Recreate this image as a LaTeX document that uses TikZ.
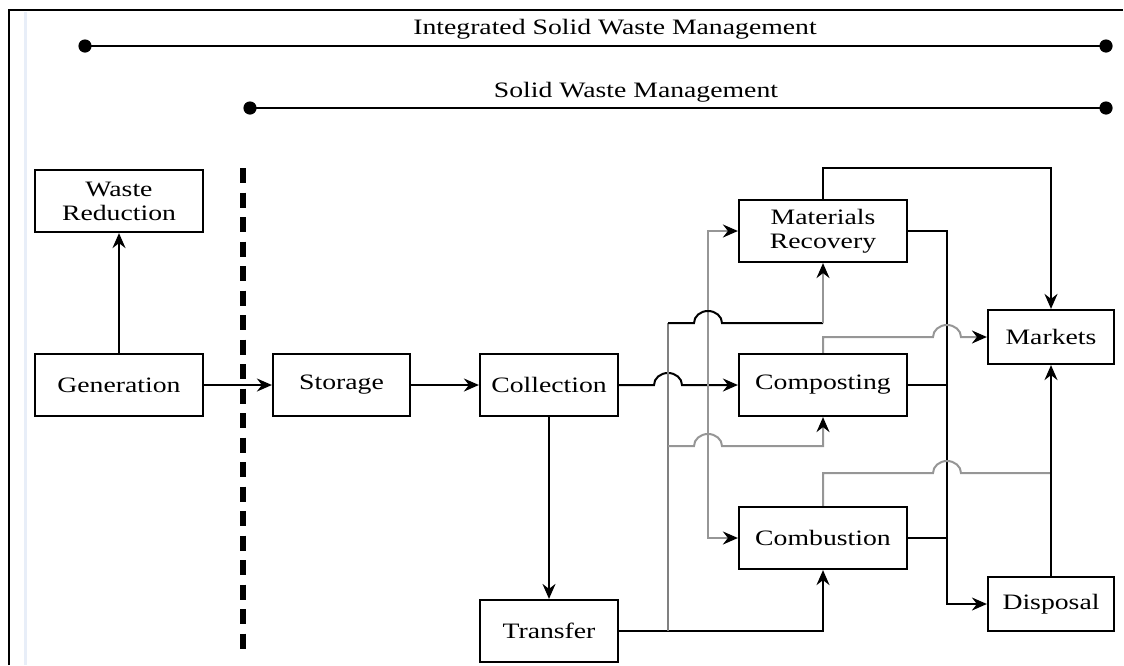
\documentclass[tikz,border=0pt]{standalone}
\usepackage{fontspec}
\setmainfont{Liberation Serif}[FakeStretch=1.26]
\usepackage{tikz}
\usetikzlibrary{arrows.meta}
\definecolor{linegray}{RGB}{150,150,150}
\definecolor{edgeblue}{RGB}{232,238,248}

\begin{document}
\begin{tikzpicture}[>={Stealth[length=7.5pt,width=6.5pt,inset=2.5pt,black]}, x=0.5pt, y=-0.5pt,
        box/.style={draw, line width=1.1pt, inner sep=0pt, align=center, font=\fontsize{11}{12}\selectfont},
        flow/.style={line width=1pt},
        gflow/.style={line width=1pt, linegray}] % y向下, 1单位=1像素
        \useasboundingbox (0,0) rectangle (1124,665);

        \path 
        (85,46)  coordinate (i1)
        (1106,46) coordinate (i2)
        (250,108) coordinate (s1)
        (1106,108) coordinate (s2)
        (243,168) coordinate (d1)
        (243,653) coordinate (d2)
        (668,631) coordinate (t0)
        (668,323) coordinate (t1)
        (668,446) coordinate (t2)
        (708,385) coordinate (c0)
        (947,231) coordinate (r0)
        ;

        % 外框
        \draw[edgeblue, line width=1.5pt] (25,12) -- (25,665);
        \draw[line width=1.4pt] (9,665) -- (9,10) -- (1123,10);

        \draw[line width=1.3pt] (i1) -- (i2);
        \draw[line width=1.3pt] (s1) -- (s2);
        \fill (i1) circle[radius=3.3pt] (i2) circle[radius=3.3pt]
              (s1) circle[radius=3.3pt] (s2) circle[radius=3.3pt];
        \node[font=\fontsize{11}{12}\selectfont] (iswm) at (615,29) {Integrated Solid Waste Management};
        \node[font=\fontsize{11}{12}\selectfont] (swm) at (636,92) {Solid Waste Management};

        \draw[line width=2.6pt, dash pattern=on 7.5pt off 4.75pt] (d1) -- (d2);

        \node[box, minimum width=84pt, minimum height=31pt] (wred) at (119,201) {Waste\\Reduction};
        \node[box, minimum width=84pt, minimum height=31pt] (gen) at (119,385) {Generation};
        \node[box, minimum width=68.5pt, minimum height=31pt] (stor) at (341.5,385) {Storage};
        \node[box, minimum width=69pt, minimum height=31pt] (coll) at (549,385) {Collection};
        \node[box, minimum width=69pt, minimum height=31pt] (trans) at (549,631) {Transfer};
        \node[box, minimum width=84pt, minimum height=31pt] (mrec) at (823,231) {Materials\\Recovery};
        \node[box, minimum width=84pt, minimum height=31pt] (comp) at (823,385) {Composting};
        \node[box, minimum width=84pt, minimum height=31pt] (comb) at (823,538) {Combustion};
        \node[box, minimum width=63pt, minimum height=27pt] (mkt) at (1051,337) {Markets};
        \node[box, minimum width=63pt, minimum height=27pt] (disp) at (1051,604) {Disposal};

        \draw[flow,->] (gen) -- (wred);
        \draw[flow,->] (gen) -- (stor);
        \draw[flow,->] (stor) -- (coll);
        \draw[flow,->] (coll) -- (trans);

        % Collection 出口
        \draw[flow,->] (coll.east) -- (654,385) arc[start angle=180, end angle=360, x radius=14, y radius=12] -- (comp.west);
        \draw[gflow,->] (c0) |- (mrec.west);
        \draw[gflow,->] (c0) |- (comb.west);

        % Transfer 出口
        \draw[flow,->] (trans.east) -| (comb.south);
        \draw[gflow, color=gray] (t0) -- (t1);
        \draw[flow] (t1) -- ++(26,0) arc[start angle=180, end angle=360, x radius=14, y radius=12] -- (t1 -| mrec.south);
        \draw[gflow,->] (t1 -| mrec.south) -- (mrec.south);
        \draw[gflow,->] (t2) -- ++(26,0) arc[start angle=180, end angle=360, x radius=14, y radius=12] -| (comp.south);

        % 右侧
        \draw[flow,->] (mrec.east) -- (r0) |- (disp.west);
        \draw[flow] (comp.east) -- (comp.east -| r0);
        \draw[flow] (comb.east) -- (comb.east -| r0);
        \draw[flow,->] (mrec.north) -- ++(0,-31) -| (mkt.north);
        \draw[gflow,->] (comp.north) |- (933,337) arc[start angle=180, end angle=360, x radius=14, y radius=12] -- (mkt.west);
        \draw[gflow] (comb.north) |- (933,473) arc[start angle=180, end angle=360, x radius=14, y radius=12] -- (961,473 -| mkt.south);
        \draw[flow,->] (disp) -- (mkt);
\end{tikzpicture}
\end{document}
